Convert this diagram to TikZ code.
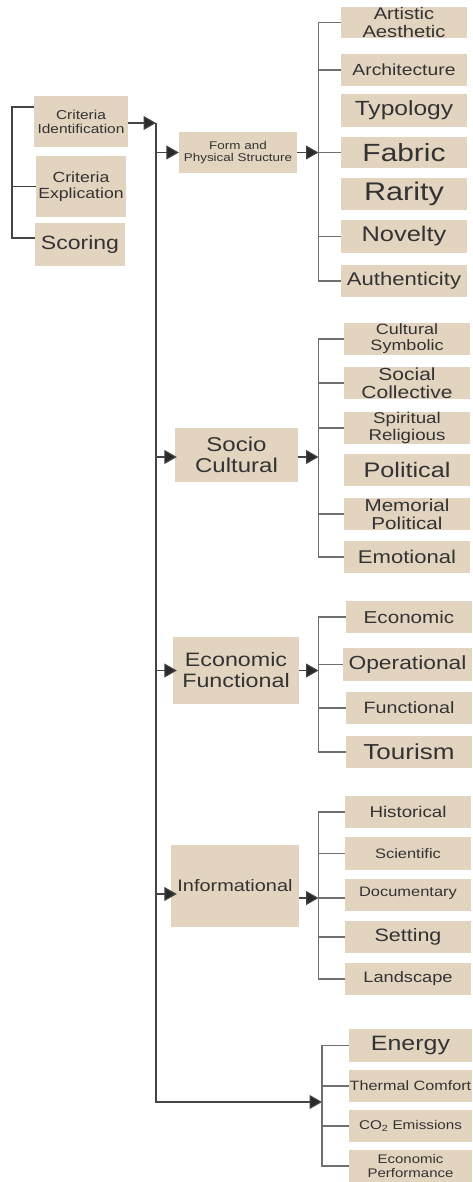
\documentclass[tikz,border=0pt]{standalone}
\usepackage{fontspec}
\setmainfont{Liberation Sans}[FakeStretch=1.2]
\usetikzlibrary{arrows.meta}

\definecolor{boxfill}{HTML}{E3D4C0}
\definecolor{txt}{HTML}{333333}
\definecolor{spinecol}{HTML}{444444}
\definecolor{brkcol}{HTML}{707070}
\definecolor{tipcol}{HTML}{2A2A2A}

% font size with its own line spacing
\newcommand{\fz}[2]{\fontsize{#1}{#2}\selectfont}
% rectangle node given by its corners (x1,y1)-(x2,y2), size and text
\newcommand{\bx}[8]{%
  \node[box, minimum width={(#4-#2)*1pt}, minimum height={(#5-#3)*1pt},
        font=\fz{#6}{#7}] (#1) at ({(#2+#4)/2},{(#3+#5)/2}) {#8};}

\begin{document}
\begin{tikzpicture}[x=1pt, y=-1pt,
  box/.style={fill=boxfill, draw=none, inner sep=0pt, align=center, text=txt},
  spine/.style={draw=spinecol, line width=1.1pt},
  brk/.style={draw=brkcol, line width=1.1pt},
  arr/.style={draw=spinecol, line width=1.1pt,
              -{Triangle[length=12.5pt, width=14pt, fill=tipcol]}}]

\useasboundingbox (0,0) rectangle (472,1182);

% ---- criteria column ----
\bx{ci}{34}{96}{128}{147}{12.9}{14}{Criteria\\Identification}
\bx{ce}{36}{156}{126}{217}{14.7}{16}{Criteria\\Explication}
\bx{sc}{35}{223}{125}{266}{19.2}{21}{Scoring}

% ---- main categories ----
\bx{fp}{179}{132}{297}{173}{11.2}{12}{Form and\\Physical Structure}
\bx{so}{175}{428}{298}{482}{20}{21.6}{Socio\\Cultural}
\bx{ef}{173}{637}{299}{704}{19.4}{21}{Economic\\Functional}
\bx{inf}{171}{845}{299}{927}{16.6}{18}{Informational}

% ---- form and physical structure ----
\bx{aa}{341}{7}{467}{38}{16.8}{17.7}{Artistic\\Aesthetic}
\bx{ar}{341}{54}{467}{86}{16.1}{17}{Architecture}
\bx{ty}{341}{94}{467}{127}{20.5}{22}{Typology}
\bx{fa}{341}{137}{467}{168}{24.9}{26}{Fabric}
\bx{ra}{341}{178}{467}{210}{25.5}{27}{Rarity}
\bx{no}{341}{220}{467}{253}{21.2}{22}{Novelty}
\bx{au}{341}{265}{467}{297}{18.4}{19}{Authenticity}

% ---- socio cultural ----
\bx{cs}{344}{323}{470}{355}{15}{16.2}{Cultural\\Symbolic}
\bx{sco}{344}{367}{470}{399}{17.5}{18.5}{Social\\Collective}
\bx{sr}{344}{412}{470}{444}{15.6}{16.5}{Spiritual\\Religious}
\bx{po}{344}{454}{470}{486}{21}{22}{Political}
\bx{mp}{344}{498}{470}{530}{17.2}{18}{Memorial\\Political}
\bx{em}{344}{541}{470}{573}{18.4}{19}{Emotional}

% ---- economic functional ----
\bx{ec}{346}{601}{472}{633}{17.2}{18}{Economic}
\bx{op}{343}{648}{472}{681}{19}{20}{Operational}
\bx{fu}{346}{692}{472}{724}{16.4}{17}{Functional}
\bx{to}{346}{736}{472}{768}{21.7}{23}{Tourism}

% ---- informational ----
\bx{hi}{345}{796}{471}{828}{15.6}{16.5}{Historical}
\bx{sci}{345}{837}{471}{870}{13.7}{14.5}{Scientific}
\node[box, minimum width=126pt, minimum height=32pt, font=\fz{13.7}{14.5},
      text depth=6pt] (do) at (408,895) {Documentary};
\bx{se}{345}{921}{471}{953}{17.9}{19}{Setting}
\bx{la}{345}{963}{471}{995}{15.2}{16}{Landscape}

% ---- energy group ----
\bx{en}{349}{1029}{472}{1062}{20.8}{22}{Energy}
\bx{tc}{349}{1070}{472}{1102}{13.5}{14.5}{Thermal Comfort}
\bx{co}{349}{1110}{472}{1142}{12.7}{13.5}{CO\textsubscript{2} Emissions}
\bx{ep}{349}{1150}{472}{1182}{12.5}{13.4}{Economic\\Performance}

% ---- bracket and spine positions ----
\coordinate (lb) at (12,0);
\coordinate (sp0) at (156,123);
\coordinate (spx) at (156,0);
\coordinate (g) at (318.5,0);
\coordinate (g5) at (322,0);

% criteria bracket
\draw[spine] (ci.west |- 0,107) -| (lb |- 0,238) -- (sc.west |- 0,238);
\draw[spine] (lb |- ce.west) -- (ce.west);

% spine with its arrows
\draw[arr] (ci.east |- sp0) -- (sp0);
\draw[arr] (sp0) -- (spx |- 0,1102) -- (g5 |- 0,1102);
\draw[arr] (spx |- fp.west) -- (fp.west);
\draw[arr] (spx |- 0,457) -- ([xshift=2pt]so.west |- 0,457);
\draw[arr] (spx |- ef.west) -- ([xshift=4pt]ef.west);
\draw[arr] (spx |- 0,894) -- ([xshift=6pt]inf.west |- 0,894);

% category to bracket arrows
\draw[arr] (fp.east) -- (g |- fp.east);
\draw[arr] (so.east |- 0,457) -- (g |- 0,457);
\draw[arr] (ef.east) -- (g |- ef.east);
\draw[arr] (inf.east |- 0,898) -- (g |- 0,898);

% form and physical structure bracket
\draw[brk] (aa.west) -| (g |- au.west) -- (au.west);
\foreach \n in {ar,fa,no} \draw[brk] (g |- \n.west) -- (\n.west);

% socio cultural bracket
\draw[brk] (cs.west) -| (g |- em.west) -- (em.west);
\foreach \n in {sco,sr,mp} \draw[brk] (g |- \n.west) -- (\n.west);

% economic functional bracket
\draw[brk] (ec.west) -| (g |- to.west) -- (to.west);
\foreach \n in {op,fu} \draw[brk] (g |- \n.west) -- (\n.west);

% informational bracket
\draw[brk] (hi.west) -| (g |- la.west) -- (la.west);
\draw[brk] (g |- 0,898) -- (do.west |- 0,898);
\foreach \n in {sci,se} \draw[brk] (g |- \n.west) -- (\n.west);

% energy bracket
\draw[brk] (en.west) -| (g5 |- 0,1166) -- (ep.west |- 0,1166);
\foreach \n in {tc,co} \draw[brk] (g5 |- \n.west) -- (\n.west);

\end{tikzpicture}
\end{document}
